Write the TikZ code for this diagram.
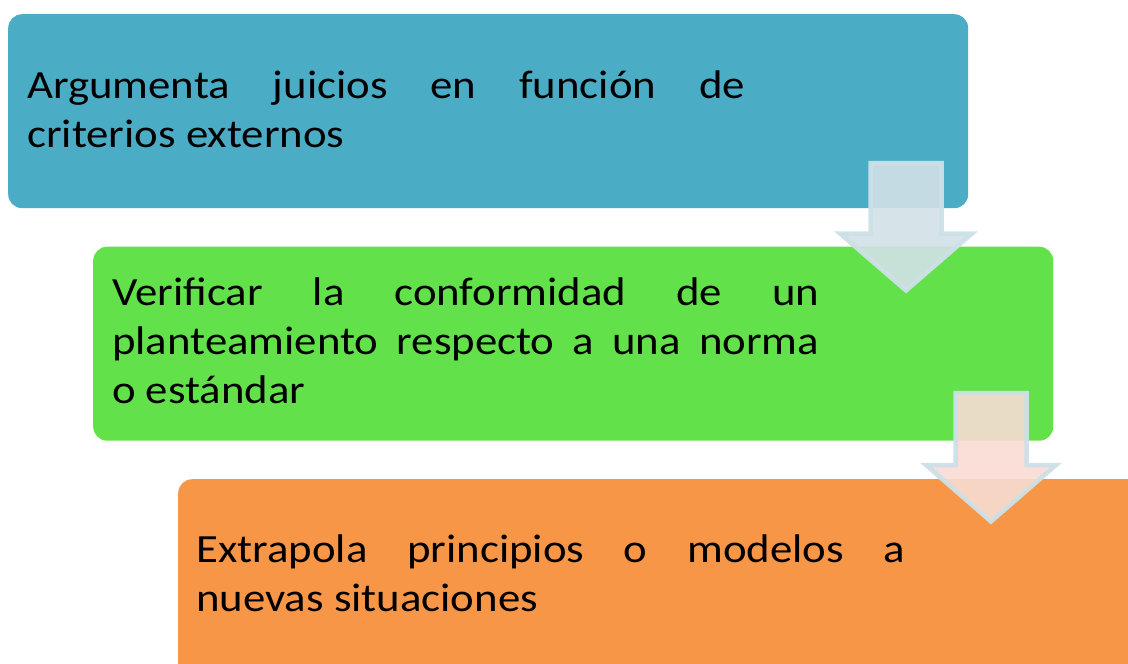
\documentclass[tikz,border=0pt]{standalone}
\usepackage{fontspec}
\setmainfont{Carlito}[FakeStretch=1.12]
\definecolor{cblue}{RGB}{75,172,198}
\definecolor{cgreen}{RGB}{98,225,74}
\definecolor{corange}{RGB}{247,150,70}
\definecolor{arrAfill}{RGB}{210,225,232}
\definecolor{arrBfill}{RGB}{248,220,211}
\definecolor{arrline}{RGB}{205,224,231}
\tikzset{
  stagebox/.style={rounded corners=14pt, draw=none, anchor=north west, inner sep=0pt},
  stagetext/.style={anchor=base west, inner sep=0pt},
  flowarrow/.style={draw=arrline, line width=4.5pt, line join=miter, fill opacity=0.9, draw opacity=0.95},
}
\newcommand{\stagefont}{\fontsize{40}{49}\selectfont\tolerance=10000\hbadness=10000 }
\begin{document}
\begin{tikzpicture}[x=1pt,y=-1pt]
\useasboundingbox (0,0) rectangle (1128,664);
\clip (0,0) rectangle (1128,664);
% boxes
\node[stagebox, fill=cblue, minimum width=960pt, minimum height=194pt] (b1) at (8,14) {};
\node[stagebox, fill=cgreen, minimum width=960pt, minimum height=194pt] (b2) at (93,246.5) {};
\node[stagebox, fill=corange, minimum width=990pt, minimum height=220pt] (b3) at (178,479) {};
% texts
\node[stagetext] (t1) at (27,98) {\parbox[t]{718pt}{\stagefont Argumenta juicios en función de\linebreak criterios externos}};
\node[stagetext] (t2) at (112,305) {\parbox[t]{707pt}{\stagefont Verificar la conformidad de un\linebreak planteamiento respecto a una norma\linebreak o estándar}};
\node[stagetext] (t3) at (196,562) {\parbox[t]{709pt}{\stagefont Extrapola principios o modelos a\linebreak nuevas situaciones}};
% arrows
\draw[flowarrow, fill=arrAfill] (870.5,163) -- (941.5,163) -- (941.5,233.5) -- (972,233.5) -- (906,290.5) -- (840,233.5) -- (870.5,233.5) -- cycle;
\draw[flowarrow, fill=arrBfill] (955.5,393) -- (1026.5,393) -- (1026.5,465) -- (1056,465) -- (991,521.5) -- (926,465) -- (955.5,465) -- cycle;
\end{tikzpicture}
\end{document}
